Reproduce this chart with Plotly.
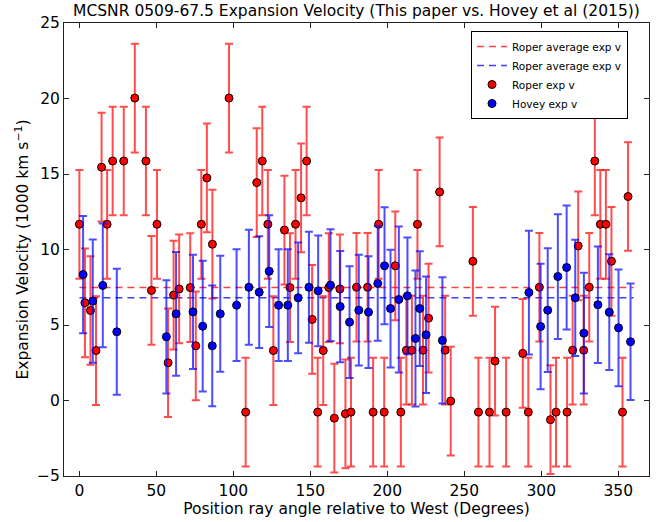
import plotly.graph_objects as go

# Roper (this paper) expansion velocities, 1000 km/s
roper_angle = [0, 3.6, 7.2, 10.8, 14.4, 18, 21.6, 28.8, 36, 43.2, 46.8, 50.4, 57.6, 61.2, 64.8,
               72, 75.6, 79.2, 82.8, 86.4, 97.2, 108, 115.2, 118.8, 122.4, 126, 133.2, 136.8,
               140.4, 144, 147.6, 151.2, 154.8, 158.4, 162, 165.6, 169.2, 172.8, 176.4, 180,
               187.2, 190.8, 194.4, 198, 205.2, 208.8, 212.4, 216, 219.6, 223.2, 226.8, 234,
               237.6, 241.2, 255.6, 259.2, 266.4, 270, 277.2, 288, 291.6, 298.8, 306, 309.6,
               316.8, 320.4, 324, 327.6, 331.2, 334.8, 338.4, 342, 345.6, 352.8, 356.4]
roper_vel = [11.67, 6.47, 5.96, 3.31, 15.45, 11.67, 15.86, 15.86, 20.03, 15.86, 7.29, 11.67, 2.50,
             6.98, 7.39, 7.48, 3.62, 11.67, 14.74, 10.35, 20.03, -0.77, 14.43, 15.86, 11.67, 3.31,
             11.29, 7.48, 11.67, 13.42, 15.86, 5.37, -0.77, 3.31, 7.48, -1.17, 7.39, -0.88, -0.77,
             7.50, 7.50, -0.77, 11.67, -0.77, 8.92, -0.77, 3.33, 3.33, 11.67, 3.33, 5.45, 13.81,
             3.33, -0.04, 9.22, -0.77, -0.77, 2.61, -0.77, 3.12, -0.77, 7.50, -1.27, -0.77, -0.77,
             3.33, 10.24, 3.33, 7.50, 15.86, 11.67, 11.67, 9.22, -0.77, 13.51]
roper_err = 3.6

# Hovey et al (2015) expansion velocities
hovey_angle = [2.4, 8.7, 15.2, 24.3, 56.5, 62.8, 73.8, 80.1, 86.3, 91.5, 102.1, 110.1, 116.8,
               123.3, 129.4, 135.4, 142.1, 149.1, 155.1, 163.1, 169.4, 175.5, 181.5, 187.8,
               193.8, 198.2, 202.1, 207.5, 213.1, 218.3, 221.1, 225.2, 235.8, 292.0, 299.6,
               304.2, 310.8, 316.5, 322.1, 327.7, 336.8, 344.2, 350.2, 358.0]
hovey_vel = [8.34, 6.58, 7.62, 4.55, 4.22, 5.74, 5.87, 4.92, 3.62, 5.74, 6.31, 7.50, 7.17, 8.56,
             6.31, 6.31, 6.80, 7.50, 7.26, 7.64, 6.22, 5.19, 5.98, 5.85, 7.75, 8.92, 6.09, 6.69,
             6.93, 4.11, 6.09, 4.35, 3.98, 7.15, 4.90, 5.98, 8.21, 8.81, 6.80, 4.46, 6.34, 5.85,
             4.81, 3.89]
hovey_err = [3.88, 4.08, 4.10, 4.17, 3.75, 4.10, 3.78, 4.33, 4.00, 3.84, 3.70, 3.80, 3.70, 3.70,
             3.70, 3.70, 3.67, 3.67, 3.67, 3.70, 3.68, 3.70, 3.67, 3.70, 3.80, 3.87, 3.90, 4.83,
             3.86, 4.50, 3.80, 3.86, 4.18, 4.10, 4.15, 4.10, 4.13, 4.10, 3.85, 4.00, 3.86, 3.83,
             3.87, 3.86]

roper_avg = 7.48
hovey_avg = 6.80
avg_span = [0, 360]

x_ticks = [0, 50, 100, 150, 200, 250, 300, 350]
y_ticks = [-5, 0, 5, 10, 15, 20, 25]

FONT = "DejaVu Sans"
FS = 15.5

fig = go.Figure()

fig.add_trace(go.Scatter(
    x=avg_span, y=[roper_avg, roper_avg], mode="lines",
    line=dict(color="rgba(255,0,0,0.75)", width=1.5, dash="7px,5px"),
    name="Roper average exp v"))
fig.add_trace(go.Scatter(
    x=avg_span, y=[hovey_avg, hovey_avg], mode="lines",
    line=dict(color="rgba(0,0,255,0.75)", width=1.5, dash="7px,5px"),
    name="Roper average exp v"))
fig.add_trace(go.Scatter(
    x=roper_angle, y=roper_vel, mode="markers",
    marker=dict(color="#ff0000", size=8, line=dict(color="black", width=1)),
    error_y=dict(type="constant", value=roper_err, color="rgba(255,0,0,0.7)",
                 thickness=2, width=4),
    name="Roper exp v"))
fig.add_trace(go.Scatter(
    x=hovey_angle, y=hovey_vel, mode="markers",
    marker=dict(color="#0000ff", size=8, line=dict(color="black", width=1)),
    error_y=dict(type="data", array=hovey_err, color="rgba(0,0,255,0.7)",
                 thickness=2, width=4),
    name="Hovey exp v"))

axis_common = dict(
    showline=True, linecolor="#222", linewidth=1, mirror="allticks",
    ticks="inside", ticklen=5, tickwidth=1, tickcolor="#222",
    showgrid=False, zeroline=False, automargin=False,
    tickfont=dict(family=FONT, size=FS, color="black"),
)

fig.update_layout(
    width=661, height=522,
    margin=dict(l=64, r=12, t=23, b=46),
    paper_bgcolor="white", plot_bgcolor="white",
    font=dict(family=FONT, color="black"),
    title=dict(text="MCSNR 0509-67.5 Expansion Velocity (This paper vs. Hovey et al (2015))",
               font=dict(family=FONT, size=FS, color="black"),
               x=0.5, xref="paper", xanchor="center",
               y=1 - 11 / 522, yref="container", yanchor="middle"),
    xaxis=dict(range=[-10, 370], tickvals=x_ticks,
               title=dict(text="Position ray angle relative to West (Degrees)",
                          font=dict(family=FONT, size=FS), standoff=0),
               **axis_common),
    yaxis=dict(range=[-5, 25], tickvals=y_ticks,
               title=dict(text="Expansion Velocity (1000 km s<sup>−1</sup>)",
                          font=dict(family=FONT, size=FS), standoff=4),
               **axis_common),
    legend=dict(x=(471 - 64) / 585, y=1 - (31 - 23) / 453, xanchor="left", yanchor="top",
                bordercolor="black", borderwidth=1, bgcolor="white",
                font=dict(family=FONT, size=10.5, color="black"),
                tracegroupgap=0, itemwidth=30),
    showlegend=True,
)

fig.write_html("out.html")
